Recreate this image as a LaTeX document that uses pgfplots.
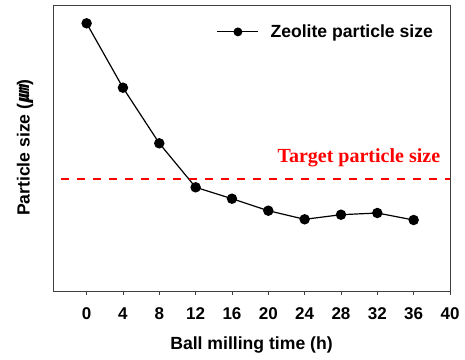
\documentclass[border=0pt]{standalone}
\usepackage{fontspec}
\setmainfont{Liberation Sans}
\newfontfamily\timesfont{Liberation Serif}
\newfontfamily\cjk[FakeSlant=0.2]{Noto Sans CJK KR}
\usepackage{pgfplots}
\pgfplotsset{compat=1.18}
\begin{document}
\begin{tikzpicture}
\begin{axis}[
  scale only axis, width=397pt, height=286pt,
  xmin=-3.7, xmax=40, ymin=0, ymax=286,
  xtick={0,4,...,40}, ytick=\empty,
  tick align=outside, major tick length=4pt,
  xtick pos=bottom,
  clip=false,
  axis line style={black!75, line width=0.8pt},
  tick style={black!75, line width=0.8pt},
  /pgf/number format/assume math mode=true,
  ticklabel style={font=\fontsize{17}{20}\selectfont\bfseries},
  xticklabel style={yshift=-9pt},
  xlabel={Ball milling time (h)},
  ylabel={Particle size ({\cjk ㎛})},
  label style={font=\fontsize{17.6}{21}\selectfont\bfseries},
  xlabel style={at={(axis description cs:0.5,-0.189)}, anchor=center},
  ylabel style={at={(axis description cs:-0.07,0.5)}, anchor=center},
  legend style={draw=none, fill=none, at={(0.97,0.906)}, anchor=east,
    font=\fontsize{17.6}{21}\selectfont\bfseries},
  legend image code/.code={%
    \draw[#1, mark size=3.8pt] plot coordinates {(0pt,0pt)};
    \draw[#1, mark=none] (-20.5pt,0pt) -- (20.5pt,0pt);
    \path (30pt,0pt);
  },
  legend cell align=left,
]
\addplot[black, line width=1.2pt, mark=*, mark size=4.6pt] coordinates {
  (0,267.7) (4,203.3) (8,147.7) (12,103.7) (16,92.3) (20,80.3)
  (24,71.7) (28,76.3) (32,78) (36,71)
};
\addlegendentry{Zeolite particle size}
\addplot[red, line width=2.5pt, dash pattern=on 8pt off 8pt, dash phase=8pt, forget plot] coordinates {(-3.7,112) (40,112)};
\node[anchor=base east, text=red, font=\timesfont\fontsize{20}{24}\selectfont\bfseries] at (axis cs:39.3,129) {Target particle size};
\path (rel axis cs:-0.1335,-0.2378) rectangle (rel axis cs:1.0378,1.0175);
\end{axis}
\end{tikzpicture}
\end{document}
